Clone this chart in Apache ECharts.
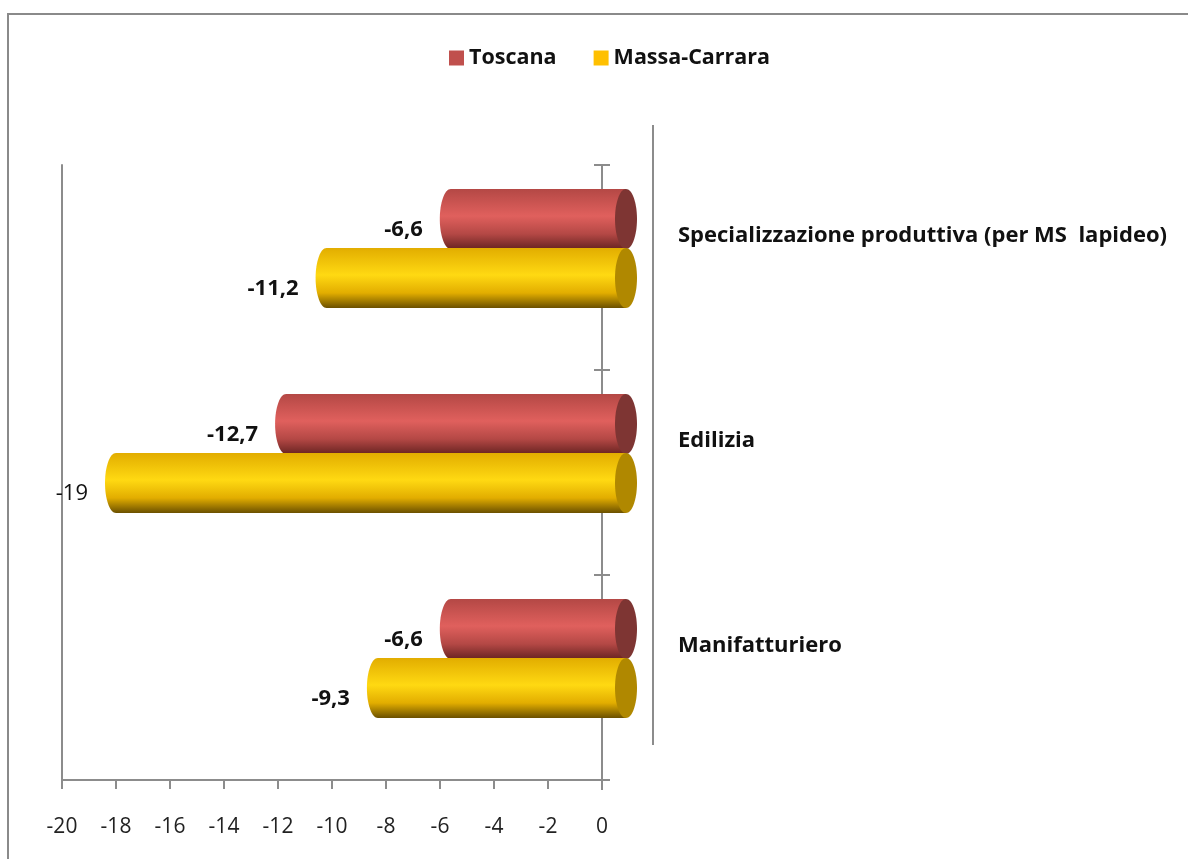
<!DOCTYPE html>
<html>
<head>
<meta charset="utf-8">
<script src="https://cdn.jsdelivr.net/npm/echarts@6/dist/echarts.min.js"></script>
<style>
html,body{margin:0;padding:0;background:#fff;}
#chart{width:1188px;height:859px;}
</style>
</head>
<body>
<div id="chart"></div>
<script>
// ---- data ----
const categories = ['Manifatturiero', 'Edilizia', 'Specializzazione produttiva (per MS  lapideo)'];
const seriesNames = ['Toscana', 'Massa-Carrara'];
const toscana = [-6.6, -12.7, -6.6];
const massaCarrara = [-9.3, -19, -11.2];
const xTicks = { min: -20, max: 0, interval: 2 };

// ---- styles ----
const FONT = '"Open Sans", "Noto Sans", sans-serif';
const palette = [
  { legend: '#c0504d', top: '#b44845', mid: '#e0605d', bot: '#6a2422', face: '#7e3533' },
  { legend: '#ffc000', top: '#e2ad00', mid: '#ffd912', bot: '#6b5000', face: '#b08800' }
];

function makeRender(sIdx) {
  return function (params, api) {
    const v = api.value(0);
    const c = api.value(1);
    const p = api.coord([v, c]);
    const z = api.coord([0, c]);
    const h = 60;
    const pairShift = -19;
    const cy = p[1] + pairShift + (sIdx === 0 ? -29.5 : 29.5);
    const rx = 11;
    const xL = p[0] + 27;
    const xR = z[0] + 24;
    const col = palette[sIdx];
    const grad = new echarts.graphic.LinearGradient(0, 0, 0, 1, [
      { offset: 0, color: col.top },
      { offset: 0.45, color: col.mid },
      { offset: 0.75, color: col.top },
      { offset: 1, color: col.bot }
    ]);
    const label = String(v).replace('.', ',');
    const bold = !(sIdx === 1 && c === 1);
    return {
      type: 'group',
      children: [
        { type: 'ellipse', shape: { cx: xL, cy: cy, rx: rx, ry: h / 2 }, style: { fill: grad } },
        { type: 'rect', shape: { x: xL, y: cy - h / 2, width: xR - xL, height: h }, style: { fill: grad } },
        { type: 'ellipse', shape: { cx: xR, cy: cy, rx: rx, ry: h / 2 }, style: { fill: col.face } },
        { type: 'text', z2: 10, style: {
            x: p[0] - 1, y: cy + 11, text: label, align: 'right', verticalAlign: 'middle',
            font: (bold ? 'bold ' : '') + '22px ' + FONT, fill: '#111'
          } }
      ]
    };
  };
}

const chart = echarts.init(document.getElementById('chart'));
chart.setOption({
  animation: false,
  backgroundColor: '#fff',
  textStyle: { fontFamily: FONT },
  legend: {
    data: seriesNames,
    left: 444, top: 42,
    itemWidth: 15, itemHeight: 15, itemGap: 37, itemTextGap: 8,
    icon: 'rect',
    textStyle: { fontSize: 21.5, fontWeight: 'bold', color: '#111', fontFamily: FONT }
  },
  grid: { left: 62, right: 586, top: 165, bottom: 79 },
  xAxis: {
    type: 'value', min: xTicks.min, max: xTicks.max, interval: xTicks.interval,
    axisLine: { show: true, onZero: false, lineStyle: { color: '#8c8c8c', width: 2 } },
    axisTick: { show: true, length: 9, lineStyle: { color: '#8c8c8c', width: 2 } },
    axisLabel: { fontSize: 21, color: '#222', margin: 37, fontFamily: FONT },
    splitLine: { show: false }
  },
  yAxis: [
    {
      type: 'category', data: categories, position: 'right',
      axisLine: { show: true, onZero: false, lineStyle: { color: '#8c8c8c', width: 2 } },
      axisTick: { show: true, length: 8, lineStyle: { color: '#8c8c8c', width: 2 } },
      axisLabel: { margin: 76, fontSize: 22, fontWeight: 'bold', color: '#111', verticalAlign: 'bottom', lineHeight: 64, fontFamily: FONT }
    },
    {
      type: 'category', data: categories, position: 'right',
      axisLine: { show: false },
      axisTick: { show: true, inside: true, length: 8, lineStyle: { color: '#8c8c8c', width: 2 } },
      axisLabel: { show: false }
    },
    {
      type: 'category', data: categories, position: 'left',
      axisLine: { show: true, onZero: false, lineStyle: { color: '#8c8c8c', width: 2 } },
      axisTick: { show: false },
      axisLabel: { show: false }
    }
  ],
  graphic: [
    { type: 'polyline', shape: { points: [[8, 859], [8, 14], [1188, 14]] }, style: { stroke: '#8a8a8a', lineWidth: 2, fill: null } },
    { type: 'line', shape: { x1: 653, y1: 125, x2: 653, y2: 745 }, style: { stroke: '#8c8c8c', lineWidth: 2 } },
    { type: 'line', shape: { x1: 602, y1: 780, x2: 602, y2: 790 }, style: { stroke: '#8c8c8c', lineWidth: 2 } }
  ],
  series: [
    {
      name: seriesNames[0], type: 'custom', itemStyle: { color: palette[0].legend },
      renderItem: makeRender(0), encode: { x: 0, y: 1 },
      data: toscana.map((v, i) => [v, i])
    },
    {
      name: seriesNames[1], type: 'custom', itemStyle: { color: palette[1].legend },
      renderItem: makeRender(1), encode: { x: 0, y: 1 },
      data: massaCarrara.map((v, i) => [v, i])
    }
  ]
});
</script>
</body>
</html>
